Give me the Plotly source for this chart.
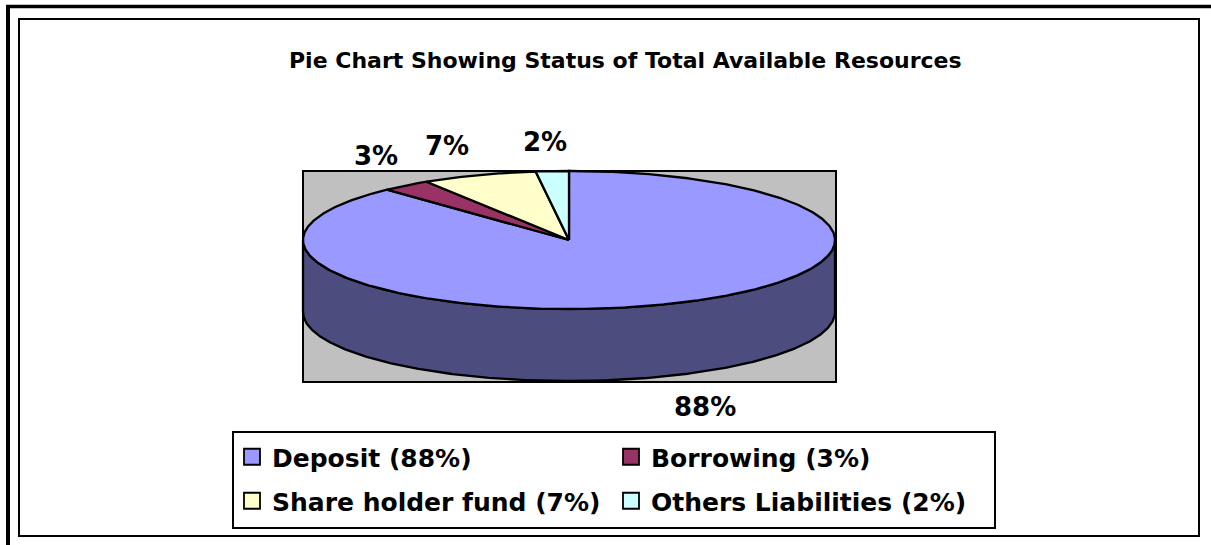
import numpy as np
import plotly.graph_objects as go

# ---------------- data ----------------
categories = ["Deposit", "Borrowing", "Share holder fund", "Others Liabilities"]
values = [88, 3, 7, 2]
colors = ["#9999FF", "#993366", "#FFFFCC", "#CCFFFF"]
title_text = "Pie Chart Showing Status of Total Available Resources"

# ---------------- layout geometry (pixels) ----------------
W, H = 1211, 545
CX, CY, RX, RY, DEPTH = 569, 240, 266, 69, 72
PLOT_BOX = (303, 171, 836, 382)
LABEL_SHIFTS = [(38, 31), (-30, -29), (-32, -29), (-7, -29)]
FONT = "DejaVu Sans"
EDGE_W = 2.3

total = float(sum(values))
fracs = [v / total for v in values]
ends = list(np.cumsum(fracs) * 360.0)
starts = [0.0] + ends[:-1]


def arc(a0, a1, dy=0.0):
    n = max(2, int(abs(a1 - a0) / 0.5) + 1)
    t = np.radians(np.linspace(a0, a1, n))
    return list(CX + RX * np.sin(t)), list(CY - RY * np.cos(t) + dy)


def shade(hexcol, f):
    h = hexcol.lstrip("#")
    r, g, b = (int(h[i:i + 2], 16) for i in (0, 2, 4))
    return "rgb(%d,%d,%d)" % (r * f, g * f, b * f)


fig = go.Figure()

# side walls (front half visible: 90..270 deg clockwise from top)
for cat, s, e, c in zip(categories, starts, ends, colors):
    lo, hi = max(s, 90.0), min(e, 270.0)
    if lo < hi:
        xt, yt = arc(lo, hi)
        xb, yb = arc(hi, lo, DEPTH)
        fig.add_trace(go.Scatter(
            x=xt + xb + [xt[0]], y=yt + yb + [yt[0]], mode="lines", fill="toself",
            fillcolor=shade(c, 0.5), line=dict(color="black", width=EDGE_W),
            showlegend=False, hoverinfo="skip"))

# top slices
for cat, v, s, e, c in zip(categories, values, starts, ends, colors):
    xa, ya = arc(s, e)
    fig.add_trace(go.Scatter(
        x=[CX] + xa + [CX], y=[CY] + ya + [CY], mode="lines", fill="toself",
        fillcolor=c, line=dict(color="black", width=EDGE_W),
        showlegend=False, name=cat, hoverinfo="text", text="%s: %d%%" % (cat, v)))

# legend entries
for i, (cat, v, c) in enumerate(zip(categories, values, colors)):
    fig.add_trace(go.Scatter(
        x=[None], y=[None], mode="markers", name="%s (%d%%)" % (cat, v),
        marker=dict(symbol="square", size=16, color=c, line=dict(color="black", width=1.8)),
        legend="legend" if i < 2 else "legend2"))

# data labels
annotations = []
for v, s, e, (dx, dy) in zip(values, starts, ends, LABEL_SHIFTS):
    mid = np.radians((s + e) / 2.0)
    px = CX + RX * np.sin(mid)
    py = CY - RY * np.cos(mid)
    if np.cos(mid) < 0:
        py += DEPTH
    annotations.append(dict(
        x=px, y=py, xref="x", yref="y", text="%d%%" % v, showarrow=False,
        xshift=dx, yshift=-dy, xanchor="center", yanchor="middle",
        font=dict(family=FONT, size=26, color="black", weight="bold")))

annotations.append(dict(
    x=625, y=60, xref="x", yref="y", text="<b>%s</b>" % title_text, showarrow=False,
    xanchor="center", yanchor="middle",
    font=dict(family=FONT, size=22, color="black")))

shapes = [
    # outer heavy frame (top & left)
    dict(type="line", x0=6, x1=W, y0=6.5, y1=6.5, line=dict(color="black", width=3.5)),
    dict(type="line", x0=8, x1=8, y0=5, y1=H, line=dict(color="black", width=4)),
    # chart area frame
    dict(type="rect", x0=19, x1=1199, y0=19, y1=536, line=dict(color="black", width=2)),
    # plot area
    dict(type="rect", x0=PLOT_BOX[0], x1=PLOT_BOX[2], y0=PLOT_BOX[1], y1=PLOT_BOX[3],
         fillcolor="#C0C0C0", line=dict(color="black", width=2), layer="below"),
    # legend box
    dict(type="rect", x0=233, x1=995, y0=432, y1=528, line=dict(color="black", width=2)),
]
for sh in shapes:
    sh.update(xref="x", yref="y")

legend_common = dict(
    orientation="h", xanchor="left", yanchor="middle", x=232 / W,
    bgcolor="rgba(0,0,0,0)", borderwidth=0, entrywidth=334, entrywidthmode="pixels",
    font=dict(family=FONT, size=25, color="black", weight="bold"), itemclick=False,
    itemdoubleclick=False)

fig.update_layout(
    width=W, height=H, autosize=False,
    margin=dict(l=0, r=0, t=0, b=0, pad=0),
    paper_bgcolor="white", plot_bgcolor="white",
    xaxis=dict(range=[0, W], visible=False, fixedrange=True),
    yaxis=dict(range=[H, 0], visible=False, fixedrange=True),
    legend=dict(y=1 - 457 / H, **legend_common),
    legend2=dict(y=1 - 501 / H, **legend_common),
    annotations=annotations, shapes=shapes, showlegend=True,
)

fig.write_html("out.html", config={"displayModeBar": False},
               post_script="document.body.style.margin='0';document.body.style.overflow='hidden';")
